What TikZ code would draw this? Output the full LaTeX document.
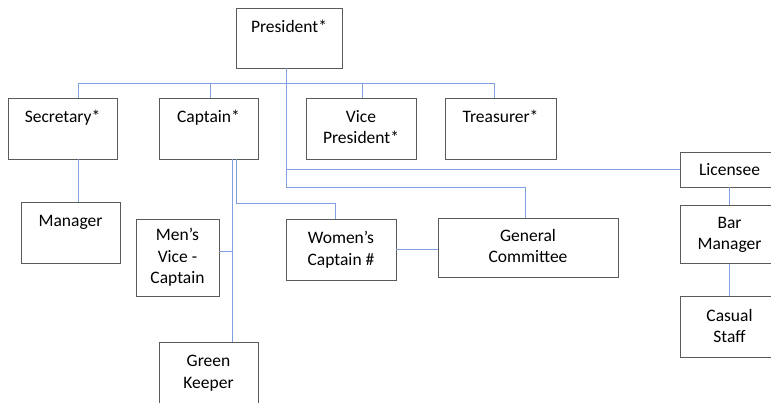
\documentclass[tikz,border=0pt]{standalone}
\usepackage{fontspec}
\setmainfont{Carlito}
\usepackage{tikz}
\usetikzlibrary{positioning}
\definecolor{linkblue}{RGB}{128,160,224}
\definecolor{boxgray}{RGB}{90,90,90}

\begin{document}
\begin{tikzpicture}[x=1pt, y=-1pt]
    % Define styles
    \tikzstyle{role} = [rectangle, draw=boxgray, line width=0.9pt, fill=white, inner sep=0pt, align=center, text depth=2.7pt, execute at begin node={\rule{0pt}{14pt}}, font=\fontsize{17.5}{21.5}\selectfont]
    \tikzstyle{connector} = [draw=linkblue, line width=1pt]

    \path[use as bounding box, clip] (0,0) rectangle (771,403);

    % Nodes
    \node (president) [role, minimum width=106pt, minimum height=60pt] at (289,38) {President*\\\mbox{}};
    \node (secretary) [role, minimum width=109pt, minimum height=61pt] at (62.5,128.5) {Secretary*\\\mbox{}};
    \node (captain) [role, minimum width=99pt, minimum height=61pt] at (208.5,128.5) {Captain*\\\mbox{}};
    \node (vicepres) [role, minimum width=110pt, minimum height=61pt] at (361,128.5) {Vice\\President*};
    \node (treasurer) [role, minimum width=111pt, minimum height=61pt] at (500.5,128.5) {Treasurer*\\\mbox{}};
    \node (manager) [role, minimum width=99pt, minimum height=61pt] at (70.5,232.5) {Manager\\\mbox{}};
    \node (mensvc) [role, minimum width=83pt, minimum height=77pt] at (177.5,257.5) {Men’s\\Vice -\\Captain};
    \node (womens) [role, minimum width=110pt, minimum height=61pt] at (341,249.5) {Women’s\\Captain \#};
    \node (general) [role, minimum width=180pt, minimum height=59pt] at (528,247.5) {General\\Committee};
    \node (greenkeeper) [role, minimum width=99pt, minimum height=62pt] at (208.5,373) {Green\\Keeper};
    \node (licensee) [role, minimum width=99pt, minimum height=35pt] at (729.5,169.5) {Licensee};
    \node (barmanager) [role, minimum width=99pt, minimum height=58pt, below=18pt of licensee] {Bar\\Manager};
    \node (casualstaff) [role, minimum width=99pt, minimum height=61pt, below=32pt of barmanager] {Casual\\Staff};

    % Connectors
    \draw [connector] ([xshift=15.5pt]secretary.north) -- ++(0,-14.5) -| ([xshift=-6.5pt]treasurer.north);
    \draw [connector] ([xshift=1.5pt]captain.north) -- ++(0,-14.5);
    \draw [connector] ([xshift=1pt]vicepres.north) -- ++(0,-14.5);
    \draw [connector] ([xshift=-3pt]president.south) |- (licensee.west);
    \draw [connector] ([xshift=-3pt]president.south) -- ++(0,119.5) -| ([xshift=-3pt]general.north);
    \draw [connector] ([xshift=15.5pt]secretary.south) -- ([xshift=7.5pt]manager.north);
    \draw [connector] ([xshift=23.5pt]captain.south) -- ([xshift=23.5pt]greenkeeper.north);
    \draw [connector] ([yshift=6pt]mensvc.east) -- ++(13,0);
    \draw [connector] ([xshift=27.5pt]captain.south) -- ++(0,44.5) -| ([xshift=-6pt]womens.north);
    \draw [connector] (womens.east) -- (womens.east -| general.west);
    \draw [connector] (licensee.south) -- (barmanager.north);
    \draw [connector] (barmanager.south) -- (casualstaff.north);
\end{tikzpicture}
\end{document}
